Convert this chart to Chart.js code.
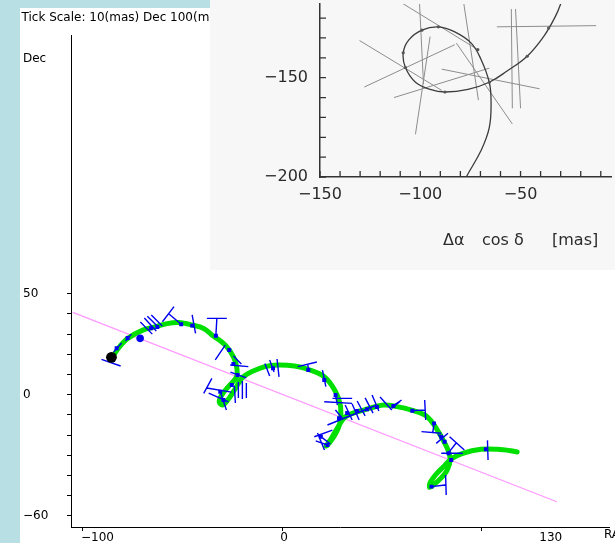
<!DOCTYPE html>
<html>
<head>
<meta charset="utf-8">
<script src="https://cdn.jsdelivr.net/npm/chart.js@4/dist/chart.umd.min.js"></script>
<style>
  html, body { margin: 0; padding: 0; width: 615px; height: 543px; overflow: hidden; background: #b8dfe3; }
  #panel { position: absolute; left: 20px; top: 8px; width: 595px; height: 535px; background: #ffffff; }
  #inset { position: absolute; left: 210px; top: 0; width: 405px; height: 270px; background: #f7f7f7; filter: blur(0.35px); }
  canvas { display: block; }
</style>
</head>
<body>
<div id="panel"><canvas id="main" width="595" height="535"></canvas></div>
<div id="inset"><canvas id="orbit" width="405" height="270"></canvas></div>
<script>
// ---- main panel: apparent path on the sky (mas) ----
const titleText = 'Tick Scale: 10(mas) Dec 100(mas)';

// fitted path (RA offset, Dec offset)
const pathRA = [-85.6,-81.6,-77.5,-70.0,-63.4,-57.8,-51.8,-45.2,-39.4,-35.3,-28.6,-24.5,-22.9,-22.9,-27.0,-30.3,-31.6,-30.0,-27.3,-24.5,
                -22.0,-19.5,-15.4,-8.7,-2.1,6.2,12.8,21.1,26.8,29.3,28.9,26.2,23.2,22.0,24.2,27.7,31.1,35.6,40.9,50.9,
                57.5,64.9,71.5,75.7,79.8,83.2,84.3,82.8,79.8,75.9,73.9,74.4,77.3,80.8,84.8,90.6,99.7,108.0,114.6,117.9];
const pathDec = [18.2,23.8,27.9,32.0,33.7,35.2,35.7,34.5,32.8,29.6,24.6,18.8,13.9,8.9,4.0,-0.1,-3.5,-5.1,-2.6,1.5,
                 5.6,8.9,11.4,13.9,14.7,14.2,12.6,8.9,1.5,-5.9,-14.2,-20.4,-24.4,-25.4,-22.4,-16.5,-11.5,-9.1,-7.6,-5.1,
                 -5.9,-7.6,-10.0,-14.2,-20.8,-27.4,-32.3,-37.3,-41.2,-44.7,-45.9,-43.2,-39.3,-35.8,-31.8,-29.0,-27.0,-27.0,-27.7,-28.4];

// observation epochs on the path
const obsRA = [-83.1,-77.6,-65.9,-62.7,-50.7,-45.2,-33.3,-26.6,-24.5,-22.4,-25.3,-31.1,-29.5,-4.6,13.1,21.1,26.8,28.5,32.6,37.6,
               42.6,47.5,19.4,22.7,55.8,65.3,76.2,79.8,81.5,83.5,84.8,74.9,102.2];
const obsDec = [23.0,28.1,32.9,33.5,34.9,34.2,29.2,22.1,15.2,9.8,4.8,1.5,-2.6,13.1,12.2,7.3,-0.1,-11.7,-9.1,-8.1,
                -7.2,-6.1,-20.8,-24.9,-5.6,-7.9,-14.2,-20.8,-23.3,-29.0,-32.3,-45.5,-27.0];

// residual ticks: [RA1, Dec1, RA2, Dec2]
const residualTicks = [
  [-90.7,17.5,-81.1,14.2], [-84.6,21.1,-80.6,25.6], [-78.6,26.6,-75.7,30.0],
  [-69.2,38.0,-63.2,31.5], [-71.2,36.0,-65.2,30.0], [-67.7,38.9,-61.7,33.0], [-65.7,39.5,-60.2,34.0],
  [-60.1,36.1,-54.3,43.6], [-57.3,40.3,-50.7,34.9], [-45.2,39.5,-43.5,30.4],
  [-37.8,37.8,-27.8,37.8], [-32.8,37.8,-33.3,29.2], [-33.6,17.2,-28.6,24.6],
  [-26.1,14.7,-17.0,13.9], [-26.0,11.2,-18.0,8.3], [-24.5,19.2,-20.5,15.2],
  [-39.4,0.7,-35.3,8.1], [-37.9,3.3,-25.5,1.3], [-36.9,0.8,-27.0,-3.6],
  [-22.0,6.3,-22.0,-1.6], [-20.0,6.8,-20.0,-2.1], [-18.0,5.8,-18.0,-1.6], [-24.0,4.3,-23.5,-4.1], [-30.9,0.8,-28.0,-7.6],
  [-8.7,15.5,-6.3,9.3], [-6.3,17.2,-4.1,11.3], [-2.6,17.7,-1.6,8.8],
  [7.8,13.9,17.4,16.2], [12.8,15.2,13.3,11.7], [20.2,12.2,21.9,4.0],
  [25.2,-1.8,35.1,-1.8], [21.1,-3.5,35.1,-4.3], [26.7,-0.1,27.7,-5.1],
  [22.7,-15.0,47.5,-5.1], [35.1,-4.6,38.6,-12.5], [37.6,-3.1,41.6,-10.5], [41.6,-1.6,45.6,-9.1], [45.1,-0.1,48.5,-8.1],
  [31.6,-5.1,35.1,-12.5], [49.1,-1.1,55.0,-7.6], [55.0,-6.7,59.1,-3.4], [26.7,-7.6,30.1,-11.5],
  [16.1,-20.8,25.2,-17.5], [16.8,-22.9,22.7,-24.9], [17.7,-19.0,21.2,-27.4], [20.2,-21.4,24.2,-24.4],
  [55.0,-5.9,59.9,-2.6], [65.3,-7.9,71.5,-7.6], [71.5,-2.6,72.0,-12.5],
  [76.2,-14.2,75.6,-18.5], [69.9,-18.3,79.8,-19.1], [77.3,-24.1,83.2,-19.1], [78.2,-19.7,82.3,-24.1],
  [84.0,-20.8,91.4,-27.4], [87.3,-23.9,83.3,-28.9], [79.8,-29.0,90.6,-29.0],
  [74.9,-45.5,81.8,-44.7], [82.0,-39.8,82.3,-49.7], [103.0,-22.6,103.3,-32.3]
];

// linear (proper-motion) trend and marked positions
const trendRA = [-105.1, 137.8];
const trendDec = [40.8, -53.0];
const startRA = [-85.7], startDec = [18.5];
const refRA = [-71.3], refDec = [27.9];

// axis ticks
const raTicks = [-100, 0, 100, 130];
const raTickLabels = ['−100', '0', '', '130'];
const decTicks = [-60, -50, -40, -30, -20, -10, 0, 10, 20, 30, 40, 50];
const decLabelled = [50, 0, -60];

// ---- inset: orbit plot in Δα cosδ / Δδ (mas) ----
const orbitRA = [-78.5,-77.0,-69.7,-65.6,-64.7,-65.6,-69.7,-74.6,-82.8,-91.0,-99.2,-105.7,-108.5,-107.4,-102.4,-95.1,-87.7,-76.2,-65.6,-56.5,-46.7,-38.5,-32.8,-30.0,-29.0];
const orbitDec = [-204,-199.9,-186.7,-175.2,-162.1,-152.3,-140.8,-132.6,-126.9,-124.4,-126.1,-131.0,-137.5,-144.9,-152.3,-155.9,-157.2,-155.9,-152.3,-146.5,-139.2,-129.3,-119.5,-112.9,-109];
const scanLines = [
  [-130.3,-131.3,-89.3,-156.4], [-127.9,-154.7,-82.8,-133.4], [-113.1,-160.0,-65.6,-145.2],
  [-89.3,-145.7,-40.5,-155.6], [-82.0,-132.6,-54.1,-173.3], [-102.4,-178.5,-95.1,-129.3],
  [-100.5,-110.0,-98.4,-153.1], [-78.7,-110.0,-71.0,-161.3], [-109.8,-112.0,-71.3,-135.9],
  [-54.6,-115.4,-54.1,-165.4], [-52.5,-115.4,-50.0,-165.4], [-61.8,-124.4,-12.3,-123.8]
];
const epochRA = [-99.2,-91.0,-108.5,-107.4,-87.7,-71.3,-65.6,-46.7,-36.0];
const epochDec = [-126.1,-124.4,-137.5,-144.9,-157.2,-135.9,-152.3,-139.2,-125.0];
const insetTicksX = [-150,-140,-130,-120,-110,-100,-90,-80,-70,-60,-50,-40,-30,-20,-10];
const insetTicksY = [-200,-190,-180,-170,-160,-150,-140,-130,-120];

// ---- helpers ----
const FONT = '"DejaVu Sans", Verdana, sans-serif';
const minus = v => (v < 0 ? '−' + Math.abs(v) : String(v));
const pts = (xs, ys) => xs.map((x, i) => ({ x: x, y: ys[i] }));
const segPts = segs => {
  const out = [];
  segs.forEach(s => { out.push({ x: s[0], y: s[1] }, { x: s[2], y: s[3] }, { x: s[2], y: null }); });
  return out;
};
// keep the plot area exactly where the layout puts it (no extra room for edge labels)
const noEdgePadding = s => { s.paddingTop = 0; s.paddingBottom = 0; s.paddingLeft = 0; s.paddingRight = 0; };

Chart.defaults.font.family = FONT;
Chart.defaults.font.size = 12;
Chart.defaults.color = '#000';

const mainText = {
  id: 'mainText',
  afterDraw(chart) {
    const ctx = chart.ctx;
    ctx.save();
    ctx.fillStyle = '#000';
    ctx.font = '12px ' + FONT;
    ctx.textAlign = 'left';
    ctx.textBaseline = 'alphabetic';
    ctx.fillText(titleText, 1.5, 12.7);
    ctx.fillText('Dec', 3, 53.5);
    ctx.fillText('RA', 584, 530);
    ctx.restore();
  }
};

new Chart(document.getElementById('main'), {
  type: 'scatter',
  data: {
    datasets: [
      { data: pts(trendRA, trendDec), showLine: true, borderColor: '#ff99ff', borderWidth: 1.3, pointRadius: 0, order: 6 },
      { data: pts(pathRA, pathDec), showLine: true, borderColor: '#00e000', borderWidth: 5, tension: 0.35,
        borderCapStyle: 'round', borderJoinStyle: 'round', pointRadius: 0, order: 5 },
      { data: segPts(residualTicks), showLine: true, spanGaps: false, borderColor: '#0000f0', borderWidth: 1.4, pointRadius: 0, order: 4 },
      { data: pts(obsRA, obsDec), pointStyle: 'rect', pointRadius: 2.8, backgroundColor: '#0000f0', borderWidth: 0, order: 3 },
      { data: pts(refRA, refDec), pointRadius: 3.8, backgroundColor: '#0000f0', borderWidth: 0, order: 2 },
      { data: pts(startRA, startDec), pointRadius: 5.4, backgroundColor: '#000', borderWidth: 0, order: 1 }
    ]
  },
  options: {
    responsive: false,
    animation: false,
    events: [],
    layout: { padding: { left: 3, top: 27, right: 0, bottom: 0 } },
    plugins: { legend: { display: false }, tooltip: { enabled: false } },
    scales: {
      x: {
        type: 'linear', min: -106, max: 164.3,
        border: { display: true, color: '#000', width: 1 },
        grid: { drawOnChartArea: false, drawTicks: true, tickLength: 4, tickWidth: 1,
                tickColor: c => (c.tick && c.tick.value === 130 ? 'rgba(0,0,0,0)' : '#000') },
        ticks: { color: '#000', padding: 0, align: 'start', labelOffset: -2, maxRotation: 0, autoSkip: false,
                 callback: v => raTickLabels[raTicks.indexOf(v)] },
        afterBuildTicks: s => { s.ticks = raTicks.map(v => ({ value: v })); },
        afterFit: s => { s.height = 16; noEdgePadding(s); }
      },
      y: {
        type: 'linear', min: -65.5, max: 178.1,
        border: { display: true, color: '#000', width: 1 },
        grid: { drawOnChartArea: false, drawTicks: true, tickLength: 4, tickWidth: 1, tickColor: '#000' },
        ticks: { color: '#000', padding: 0, crossAlign: 'far', autoSkip: false,
                 callback: v => (decLabelled.includes(v) ? minus(v) : '') },
        afterBuildTicks: s => { s.ticks = decTicks.map(v => ({ value: v })); },
        afterFit: s => { s.width = 48; noEdgePadding(s); }
      }
    }
  },
  plugins: [mainText]
});

// inset: inward tick marks and axis caption
const insetDecor = {
  id: 'insetDecor',
  afterDraw(chart) {
    const { ctx, chartArea: a, scales: { x, y } } = chart;
    ctx.save();
    ctx.strokeStyle = '#333';
    ctx.lineWidth = 1.3;
    ctx.beginPath();
    x.ticks.forEach(t => { const px = x.getPixelForValue(t.value); ctx.moveTo(px, a.bottom); ctx.lineTo(px, a.bottom - 6); });
    y.ticks.forEach(t => { const py = y.getPixelForValue(t.value); ctx.moveTo(a.left, py); ctx.lineTo(a.left + 6, py); });
    ctx.stroke();
    ctx.fillStyle = '#2b2b2b';
    ctx.font = '16px ' + FONT;
    ctx.textAlign = 'left';
    ctx.textBaseline = 'alphabetic';
    ctx.fillText('Δα', 233, 245);
    ctx.fillText('cos δ', 272, 245);
    ctx.fillText('[mas]', 342, 245);
    ctx.restore();
  }
};

new Chart(document.getElementById('orbit'), {
  type: 'scatter',
  data: {
    datasets: [
      { data: segPts(scanLines), showLine: true, spanGaps: false, borderColor: '#8c8c8c', borderWidth: 1, pointRadius: 0, order: 3 },
      { data: pts(orbitRA, orbitDec), showLine: true, borderColor: '#3c3c3c', borderWidth: 1.3, tension: 0.4, pointRadius: 0, order: 2 },
      { data: pts(epochRA, epochDec), pointRadius: 1.6, backgroundColor: '#555', borderWidth: 0, order: 1 }
    ]
  },
  options: {
    responsive: false,
    animation: false,
    events: [],
    layout: { padding: 0 },
    plugins: { legend: { display: false }, tooltip: { enabled: false } },
    scales: {
      x: {
        type: 'linear', min: -150, max: -4.9,
        border: { display: true, color: '#333', width: 1.5 },
        grid: { display: false, drawTicks: false },
        ticks: { color: '#2b2b2b', font: { size: 16 }, padding: 8, maxRotation: 0, autoSkip: false,
                 callback: v => (v % 50 === 0 ? minus(v) : '') },
        afterBuildTicks: s => { s.ticks = insetTicksX.map(v => ({ value: v })); },
        afterFit: s => { s.height = 93; noEdgePadding(s); }
      },
      y: {
        type: 'linear', min: -200, max: -112.9,
        border: { display: true, color: '#333', width: 1.5 },
        grid: { display: false, drawTicks: false },
        ticks: { color: '#2b2b2b', font: { size: 16 }, padding: 12, autoSkip: false,
                 callback: v => (v % 50 === 0 ? minus(v) : '') },
        afterBuildTicks: s => { s.ticks = insetTicksY.map(v => ({ value: v })); },
        afterFit: s => { s.width = 110; noEdgePadding(s); }
      }
    }
  },
  plugins: [insetDecor]
});
</script>
</body>
</html>
